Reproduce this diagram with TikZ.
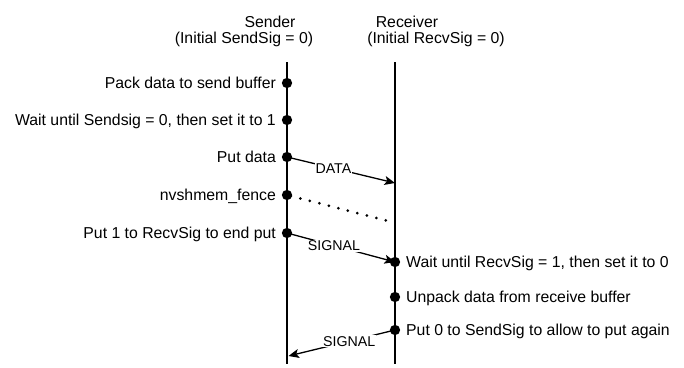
\documentclass[tikz,border=0pt]{standalone}
\usepackage{fontspec}
\setmainfont{Liberation Sans}
\usetikzlibrary{arrows.meta}
\begin{document}
\begin{tikzpicture}[x=1pt,y=-1pt,
  lbl/.style={font=\fontsize{15.8}{18}\selectfont, inner sep=0pt},
  elbl/.style={font=\fontsize{14.2}{16}\selectfont, fill=white, inner sep=1pt},
  life/.style={line width=2.6pt},
  evt/.style={circle, fill=black, inner sep=0pt, minimum size=10.3pt},
  msg/.style={line width=1.3pt, -{Stealth[length=10.5pt,width=9pt,inset=2.5pt]}},
  fence/.style={line width=3pt, line cap=round, dash pattern=on 0pt off 9.8pt, shorten <=4pt},
]
\useasboundingbox (0,0) rectangle (684,367);

% headers
\node[lbl, anchor=base] (sh1) at (270,27) {Sender};
\node[lbl, anchor=base] (sh2) at (244,43) {(Initial SendSig = 0)};
\node[lbl, anchor=base] (rh1) at (407,27) {Receiver};
\node[lbl, anchor=base] (rh2) at (436,43) {(Initial RecvSig = 0)};

% lifelines
\coordinate (stop) at (287,62);
\coordinate (sbot) at (287,364);
\coordinate (rtop) at (395,62);
\coordinate (rbot) at (395,364);
\draw[life] (stop) -- (sbot);
\draw[life] (rtop) -- (rbot);

% arrow end points
\coordinate (rdata) at (395,183);
\coordinate (rfence) at (392,222);
\coordinate (sret) at (288.5,356);

% messages
\draw[msg] (287,157) -- node[elbl, pos=0.43] (ldata) {DATA} (rdata);
\draw[fence] (287,195) -- (rfence);
\draw[msg] (287,233) -- node[elbl, pos=0.435] (lsig1) {SIGNAL} (395,262);
\draw[msg] (395,330) -- node[elbl, pos=0.43] (lsig2) {SIGNAL} (sret);

% events on sender
\node[evt] (s1) at (287,83) {};
\node[evt] (s2) at (287,120) {};
\node[evt] (s3) at (287,157) {};
\node[evt] (s4) at (287,195) {};
\node[evt] (s5) at (287,233) {};
% events on receiver
\node[evt] (r1) at (395,262) {};
\node[evt] (r2) at (395,297) {};
\node[evt] (r3) at (395,330) {};

% sender labels
\node[lbl, anchor=base east] (t1) at (276,88.5) {Pack data to send buffer};
\node[lbl, anchor=base east] (t2) at (276,125.5) {Wait until Sendsig = 0, then set it to 1};
\node[lbl, anchor=base east] (t3) at (276,162.5) {Put data};
\node[lbl, anchor=base east] (t4) at (276,200.5) {nvshmem\_fence};
\node[lbl, anchor=base east] (t5) at (276,238.5) {Put 1 to RecvSig to end put};
% receiver labels
\node[lbl, anchor=base west] (u1) at (406,267.5) {Wait until RecvSig = 1, then set it to 0};
\node[lbl, anchor=base west] (u2) at (406,302.5) {Unpack data from receive buffer};
\node[lbl, anchor=base west] (u3) at (406,335.5) {Put 0 to SendSig to allow to put again};
\end{tikzpicture}
\end{document}
